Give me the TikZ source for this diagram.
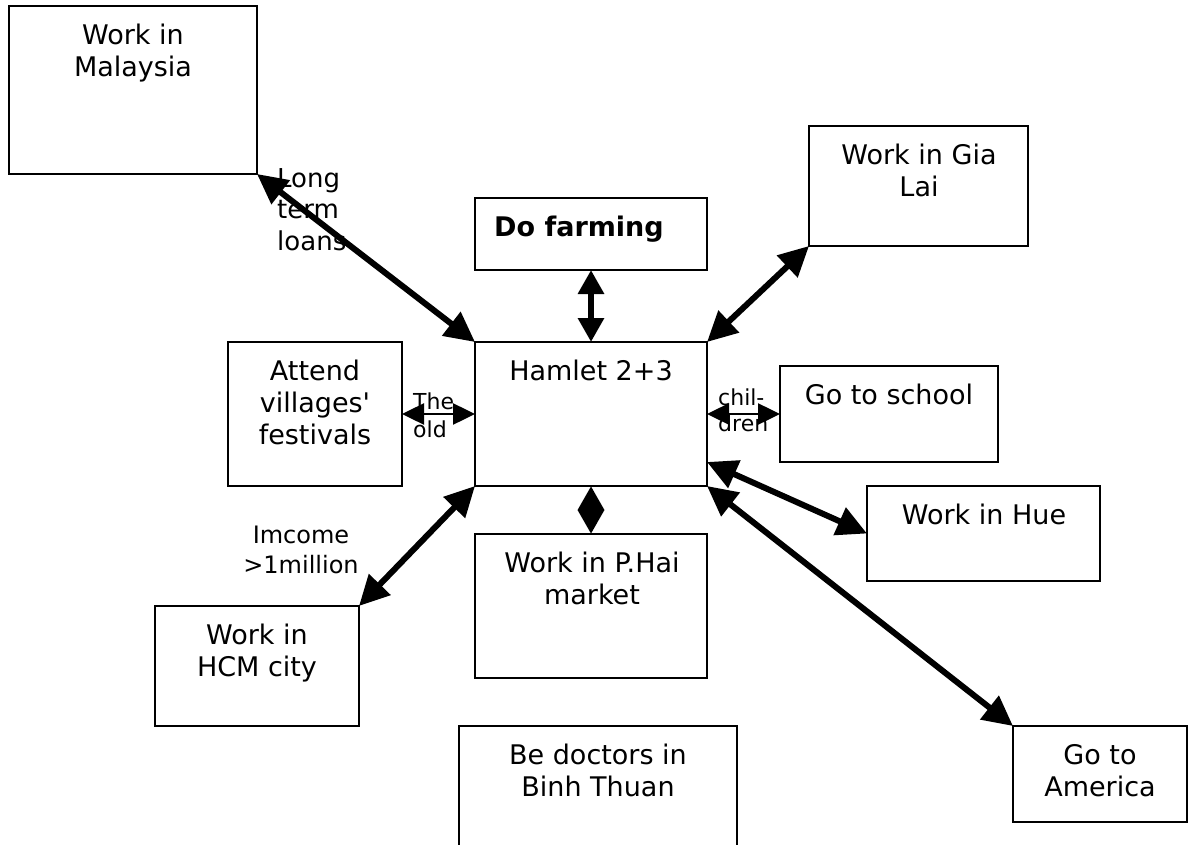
\documentclass[tikz,border=0pt]{standalone}
\usepackage{fontspec}
\setmainfont{DejaVu Sans}
\usetikzlibrary{arrows.meta}
\begin{document}
\begin{tikzpicture}[x=1pt,y=-1pt,
  box/.style={draw, line width=1.8pt, rectangle, inner sep=0pt, outer sep=0pt},
  txt/.style={align=center, inner sep=0pt, anchor=north, font=\fontsize{27}{32}\selectfont},
  lab/.style={align=left, inner sep=0pt, anchor=north west},
  bigarrow/.style={line width=6pt, {Triangle[length=30pt,width=29pt]}-{Triangle[length=30pt,width=29pt]}},
  vertarrow/.style={line width=6pt, {Triangle[length=24pt,width=25pt]}-{Triangle[length=24pt,width=25pt]}},
  smallarrow/.style={line width=2.5pt, {Triangle[length=22pt,width=21pt]}-{Triangle[length=22pt,width=21pt]}}
]
\clip (0,0) rectangle (1190,845);
\fill[white] (0,0) rectangle (1190,845);

% boxes
\node[box, minimum width=248pt, minimum height=168pt] (mal) at (133,90) {};
\node[box, minimum width=219pt, minimum height=120pt] (gia) at (918.5,186) {};
\node[box, minimum width=232pt, minimum height=72pt] (farm) at (591,234) {};
\node[box, minimum width=232pt, minimum height=144pt] (ham) at (591,414) {};
\node[box, minimum width=174pt, minimum height=144pt] (att) at (315,414) {};
\node[box, minimum width=218pt, minimum height=96pt] (sch) at (889,414) {};
\node[box, minimum width=233pt, minimum height=95pt] (hue) at (983.5,533.5) {};
\node[box, minimum width=232pt, minimum height=144pt] (phai) at (591,606) {};
\node[box, minimum width=204pt, minimum height=120pt] (hcm) at (257,666) {};
\node[box, minimum width=278pt, minimum height=144pt] (doc) at (598,798) {};
\node[box, minimum width=174pt, minimum height=96pt] (ame) at (1100,774) {};

% box texts
\node[txt] (malT) at (133,24) {Work in\\Malaysia};
\node[txt] (giaT) at (919,144) {Work in Gia\\Lai};
\node[txt, font=\fontsize{27}{32}\selectfont\bfseries] (farmT) at (579,216) {Do farming};
\node[txt] (hamT) at (591,360) {Hamlet 2+3};
\node[txt] (attT) at (315,360) {Attend\\villages\textquotesingle\\festivals};
\node[txt] (schT) at (889,384) {Go to school};
\node[txt] (hueT) at (984,504) {Work in Hue};
\node[txt] (phaiT) at (592,552) {Work in P.Hai\\market};
\node[txt] (hcmT) at (257,624) {Work in\\HCM city};
\node[txt] (docT) at (598,744) {Be doctors in\\Binh Thuan};
\node[txt] (ameT) at (1100,744) {Go to\\America};

% connector labels
\node[lab, font=\fontsize{26}{31.5}\selectfont] (loanL) at (277,168) {Long\\term\\loans};
\node[lab, font=\fontsize{22}{28}\selectfont] (oldL) at (413,393) {The\\old};
\node[lab, font=\fontsize{22}{26}\selectfont] (childL) at (718,389) {chil-\\dren};
\node[txt, font=\fontsize{24}{30}\selectfont] (incL) at (301,526) {Imcome\\>1million};

% connectors
\draw[bigarrow] (mal.south east) -- (ham.north west);
\draw[vertarrow] (farm.south) -- (ham.north);
\draw[bigarrow] (gia.south west) -- (ham.north east);
\draw[smallarrow] (att.east) -- (ham.west);
\draw[smallarrow] (ham.east) -- (sch.west);
\draw[bigarrow] ([yshift=24pt]ham.south east) -- (hue.west);
\draw[bigarrow] (ham.south east) -- (ame.north west);
\draw[bigarrow] (ham.south west) -- (hcm.north east);
\draw[vertarrow] (ham.south) -- (phai.north);
\end{tikzpicture}
\end{document}
